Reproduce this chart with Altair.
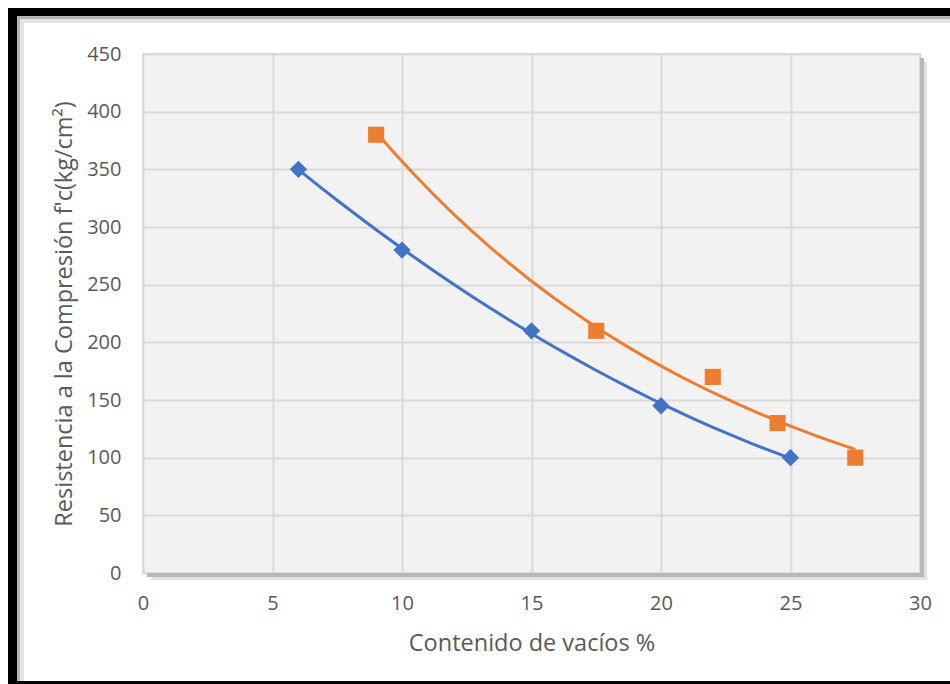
import altair as alt
import pandas as pd

# ---- data ----
blue_x = [6, 10, 15, 20, 25]
blue_y = [350, 280, 210, 145, 100]
orange_x = [9, 17.5, 22, 24.5, 27.5]
orange_y = [380, 210, 170, 130, 100]

x_ticks = [0, 5, 10, 15, 20, 25, 30]
y_ticks = [0, 50, 100, 150, 200, 250, 300, 350, 400, 450]

x_title = "Contenido de vacíos %"
y_title = "Resistencia a la Compresión f'c(kg/cm²)"

# ---- styling ----
BLUE = "#4472C4"
ORANGE = "#ED7D31"
TXT = "#595959"
FONT = "Open Sans"
W, H = 777, 519
PAD = {"left": 143, "top": 54, "right": 30, "bottom": 111}

blue = pd.DataFrame({"x": blue_x, "y": blue_y})
orange = pd.DataFrame({"x": orange_x, "y": orange_y})

xs = alt.Scale(domain=[0, 30], nice=False, zero=False)
ys = alt.Scale(domain=[0, 450], nice=False, zero=False)

X = alt.X("x:Q", scale=xs,
          axis=alt.Axis(values=x_ticks, title=x_title, labelPadding=20,
                        labelFlush=False, titleY=70, titleBaseline="middle"))
Y = alt.Y("y:Q", scale=ys,
          axis=alt.Axis(values=y_ticks, title=y_title, labelPadding=22,
                        labelFlush=False, titleX=-79, titleBaseline="middle"))

one = pd.DataFrame({"a": [0]})


def box(x1, x2, y1, y2, color):
    return alt.Chart(one).mark_rect(color=color, opacity=1).encode(
        x=alt.value(x1), x2=alt.value(x2), y=alt.value(y1), y2=alt.value(y2)
    )


decor = [
    # plot-area drop shadow (right / bottom)
    box(W + 4, W + 7, 8, H + 7, "#e2e2e2"),
    box(8, W + 7, H + 4, H + 7, "#e2e2e2"),
    box(W, W + 4, 4, H + 4, "#b8b8b8"),
    box(4, W + 4, H, H + 4, "#b8b8b8"),
    # outer frame inner shading
    box(-126, 807, -38, -35, "#b5b5b5"),
    box(-126, 807, -35, -31, "#e4e4e4"),
    box(-126, -123, -38, 627, "#b5b5b5"),
    box(-123, -119, -35, 627, "#e4e4e4"),
    # black frame
    box(-135, 807, -46, -38, "#000000"),
    box(-135, -126, -46, 630, "#000000"),
    box(-135, 807, 627, 630, "#000000"),
]

blue_line = alt.Chart(blue).transform_regression(
    "x", "y", method="poly", order=2
).mark_line(color=BLUE, strokeWidth=3).encode(x=X, y=Y)

orange_line = alt.Chart(orange).transform_regression(
    "x", "y", method="exp"
).mark_line(color=ORANGE, strokeWidth=3).encode(x=X, y=Y)

blue_pts = alt.Chart(blue).mark_point(
    shape="diamond", filled=True, size=300, color=BLUE, opacity=1
).encode(x=X, y=Y)

orange_pts = alt.Chart(orange).mark_point(
    shape="square", filled=True, size=260, color=ORANGE, opacity=1
).encode(x=X, y=Y)

chart = alt.layer(
    *decor, blue_line, orange_line, blue_pts, orange_pts
).properties(
    width=W, height=H, padding=PAD, autosize="none", background="white"
).configure_view(
    fill="#F2F2F2", stroke="#D9D9D9", strokeWidth=2
).configure_axis(
    grid=True, gridColor="#D9D9D9", gridWidth=2, domain=False, ticks=False,
    labelColor=TXT, labelFont=FONT, labelFontSize=20,
    titleColor=TXT, titleFont=FONT, titleFontSize=23.5, titleFontWeight="normal",
)

chart.save("out.html", embed_options={"renderer": "svg", "actions": False})
